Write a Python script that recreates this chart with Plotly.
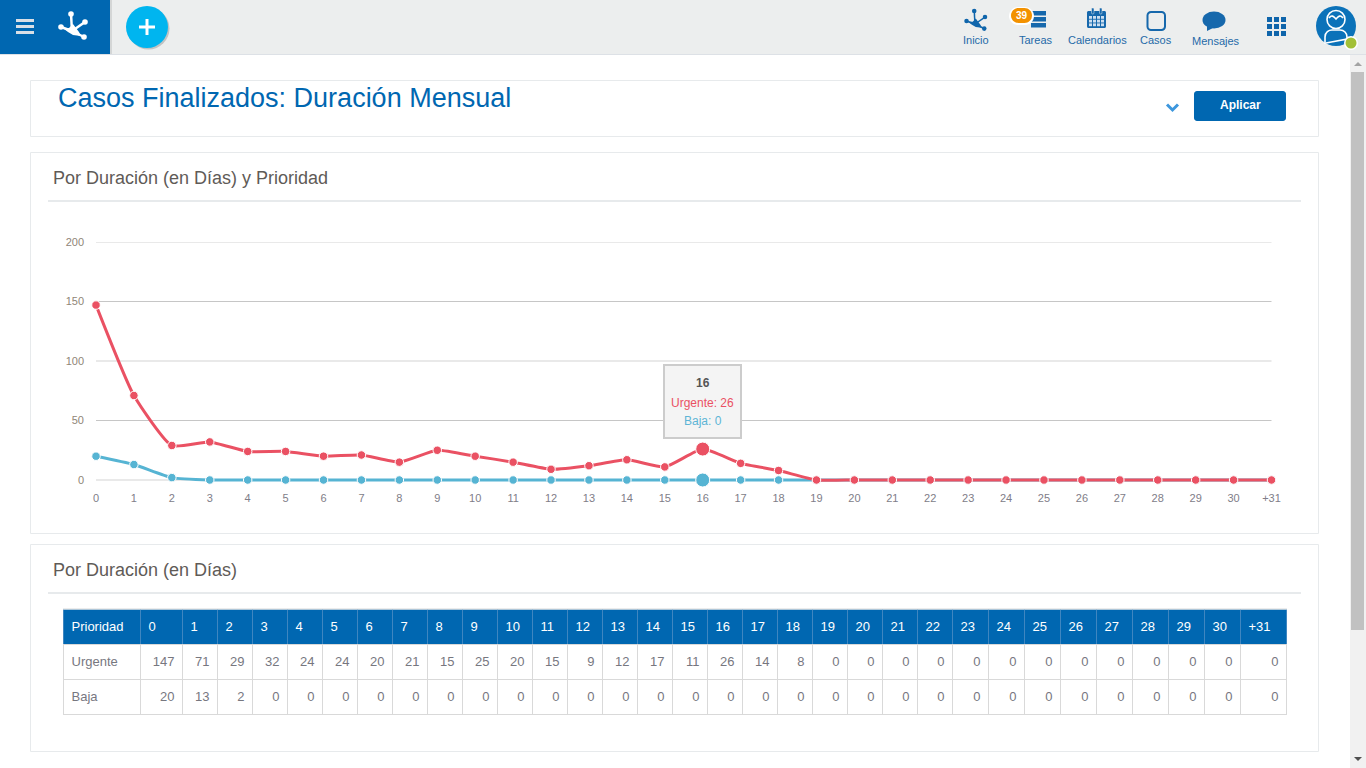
import re
import plotly.graph_objects as go

categories = [str(i) for i in range(31)] + ["+31"]
urgente = [147, 71, 29, 32, 24, 24, 20, 21, 15, 25, 20, 15, 9, 12, 17, 11, 26, 14, 8,
           0, 0, 0, 0, 0, 0, 0, 0, 0, 0, 0, 0, 0]
baja = [20, 13, 2, 0, 0, 0, 0, 0, 0, 0, 0, 0, 0, 0, 0, 0, 0, 0, 0,
        0, 0, 0, 0, 0, 0, 0, 0, 0, 0, 0, 0, 0]
y_ticks = [0, 50, 100, 150, 200]
table_col_widths = [77, 42] + [35] * 22 + [36] * 8 + [46]
hover_index = 16

W, H = 1366, 768
FONT = "Liberation Sans"
BLUE = "#0067b1"
RED = "#ea5163"
CYAN = "#56b4d3"
BORDER = "#e7eaec"


def fx(x):
    return x / W


def fy(y):
    return 1 - y / H


def path_px(d):
    """Convert an SVG path with page pixel coordinates to paper coordinates."""
    count = [0]

    def rep(m):
        v = float(m.group(0))
        c = count[0]
        count[0] += 1
        return f"{fx(v):.5f}" if c % 2 == 0 else f"{fy(v):.5f}"

    return re.sub(r"-?\d+(?:\.\d+)?", rep, d)


shapes = []
notes = []


def rect(x0, y0, x1, y1, fill=None, line=None, lw=1, layer="below"):
    shapes.append(dict(type="rect", xref="paper", yref="paper", x0=fx(x0), x1=fx(x1),
                       y0=fy(y1), y1=fy(y0), fillcolor=fill or "rgba(0,0,0,0)",
                       line=dict(color=line or "rgba(0,0,0,0)", width=lw if line else 0), layer=layer))


def circle(cx, cy, rx, ry=None, fill=None, line=None, lw=1, layer="below"):
    ry = rx if ry is None else ry
    shapes.append(dict(type="circle", xref="paper", yref="paper", x0=fx(cx - rx), x1=fx(cx + rx),
                       y0=fy(cy + ry), y1=fy(cy - ry), fillcolor=fill or "rgba(0,0,0,0)",
                       line=dict(color=line or "rgba(0,0,0,0)", width=lw if line else 0), layer=layer))


def path(d, fill=None, line=None, lw=1, layer="below"):
    shapes.append(dict(type="path", xref="paper", yref="paper", path=path_px(d),
                       fillcolor=fill or "rgba(0,0,0,0)",
                       line=dict(color=line or "rgba(0,0,0,0)", width=lw if line else 0), layer=layer))


def rrect(x0, y0, x1, y1, r, fill=None, line=None, lw=1, layer="below"):
    k = r * 0.45
    d = (f"M {x0+r} {y0} L {x1-r} {y0} C {x1-k} {y0} {x1} {y0+k} {x1} {y0+r} "
         f"L {x1} {y1-r} C {x1} {y1-k} {x1-k} {y1} {x1-r} {y1} "
         f"L {x0+r} {y1} C {x0+k} {y1} {x0} {y1-k} {x0} {y1-r} "
         f"L {x0} {y0+r} C {x0} {y0+k} {x0+k} {y0} {x0+r} {y0} Z")
    path(d, fill, line, lw, layer)


def text(x, y, s, size=12, color="#666", anchor="left", vanchor="middle"):
    notes.append(dict(xref="paper", yref="paper", x=fx(x), y=fy(y), text=s, showarrow=False,
                      xanchor=anchor, yanchor=vanchor, align=anchor, borderpad=0, borderwidth=0,
                      font=dict(family=FONT, size=size, color=color)))


def foot(cx, cy, s, color, thick):
    """Frog-foot logo around its body centre."""
    r = 2.6 * (s ** 0.5) if s < 1 else 2.8
    tips = [(-1, -17), (13, -9), (-11, -4), (12, 6)]
    for tx, ty in tips:
        path(f"M {cx} {cy} L {cx+tx*s} {cy+ty*s}", None, color, thick)
        circle(cx + tx * s, cy + ty * s, r, fill=color)
    path(f"M {cx-9*s} {cy-3*s} L {cx-3*s} {cy-3*s} L {cx+1*s} {cy-7*s} L {cx+7*s} {cy+1*s} "
         f"L {cx+9*s} {cy+5*s} L {cx+1*s} {cy+4*s} L {cx-4*s} {cy+1*s} Z", color)


# ---------- page chrome ----------
rect(0, 0, W, 54, "#eceeee")
rect(0, 54, W, 55, "#dde1e6")
rect(110, 0, 112, 54, "#d4d6d6")
rect(0, 0, 110, 54, BLUE)
for yy in (19, 25, 31):
    rect(16, yy, 34, yy + 3, "#d9dfe6")
foot(72, 31, 1, "white", 2.5)
circle(148.5, 28.5, 21, fill="rgba(0,0,0,0.18)")
circle(147, 27, 21, fill="#00b5ef")
rect(139, 25.5, 155, 28.5, "white")
rect(145.5, 19, 148.5, 35, "white")

# nav items
NAV = "#1f6aa8"
foot(975, 24, 0.77, "#0f65ab", 1.5)
for label, x, y in (("Inicio", 976, 40), ("Tareas", 1036, 40), ("Calendarios", 1097, 40),
                    ("Casos", 1156, 40), ("Mensajes", 1216, 41)):
    text(x, y, label, 11, NAV, "center")
# tareas
for yy in (11, 17, 23):
    rect(1031, yy, 1046, yy + 4.5, "#1668ac")
rrect(1009, 7, 1034, 25, 9, "white")
rrect(1011, 8, 1032, 23, 7.5, "#f39200")
text(1021.5, 15.5, "<b>39</b>", 10, "white", "center")
# calendar
rrect(1087, 11, 1106, 28, 1.5, "#1668ac")
for xx in (1091.5, 1099.5):
    rrect(xx, 8, xx + 2.5, 14, 1, "#1668ac", "#eceeee", 0.5)
for r_ in range(3):
    for c_ in range(4):
        rect(1089 + c_ * 4, 16 + r_ * 3.7, 1092 + c_ * 4, 18.8 + r_ * 3.7, "#cddff0")
# casos
rrect(1147.5, 12, 1165, 30, 3.5, None, "#1668ac", 2)
# mensajes
circle(1214, 20, 11.5, 8.5, "#1668ac")
path("M 1207 25 L 1207 31 L 1215 27 Z", "#1668ac")
# apps grid
for r_ in range(3):
    for c_ in range(3):
        rect(1267 + c_ * 7, 17 + r_ * 7, 1272 + c_ * 7, 22 + r_ * 7, "#0f65ab")
# avatar
circle(1336, 26, 20, fill="#0b72b9")
circle(1336, 19.5, 9, 9, None, "white", 1.6)
path("M 1329 18 C 1332 14 1334 17 1336 19 C 1338 17 1340 14 1343 18", None, "white", 1.6)
path("M 1325 44 L 1325 37 C 1325 32 1329 30 1332 30 L 1340 30 C 1344 30 1347 33 1347 37 L 1347 39 "
     "L 1326 43", None, "white", 1.6)
circle(1351, 43, 7, fill="white")
circle(1351, 43, 5.5, fill="#a2c037")

# scrollbar
rect(1350, 55, W, H, "#f1f1f1")
rect(1351, 72, 1364, 630, "#c1c1c1")
path("M 1354 66 L 1358 62 L 1362 66 Z", "#a3a3a3")
path("M 1354 757 L 1358 761 L 1362 757 Z", "#505050")

# panels
rect(30.5, 80.5, 1318.5, 136.5, "white", BORDER, 1)
rect(30.5, 152.5, 1318.5, 533.5, "white", BORDER, 1)
rect(30.5, 544.5, 1318.5, 751.5, "white", BORDER, 1)
rect(48, 200, 1301, 202, BORDER)
rect(48, 592, 1301, 594, BORDER)
text(58, 98, "Casos Finalizados: Duración Mensual", 27, BLUE)
text(53, 178, "Por Duración (en Días) y Prioridad", 18, "#5f5b57")
text(53, 570, "Por Duración (en Días)", 18, "#5f5b57")
path("M 1167 104.5 L 1172.5 110 L 1178 104.5", None, "#3d97dd", 3)
rrect(1194, 91, 1286, 121, 3, BLUE)
text(1240, 105.5, "<b>Aplicar</b>", 12, "white", "center")

# chart gridlines driven by the y ticks
for t in y_ticks:
    major = t % 100 == 0
    shapes.append(dict(type="line", xref="x domain", yref="y", x0=0, x1=1, y0=t, y1=t, layer="below",
                       line=dict(color="#e9e9e9" if major else "#c6c6c6", width=2 if major else 1)))

# table background and rules, sized from the same column widths as the table trace
TABLE_X0 = 63.5
TABLE_Y = [609.5, 644.5, 679.5, 714.5]
rect(TABLE_X0, TABLE_Y[0], TABLE_X0 + sum(table_col_widths), TABLE_Y[1], BLUE)
edge = TABLE_X0
edges = [edge]
for w_ in table_col_widths:
    edge += w_
    edges.append(edge)
for e_ in edges:
    rect(e_ - 0.5, TABLE_Y[0], e_ + 0.5, TABLE_Y[1], "#3f86c0")
    rect(e_ - 0.5, TABLE_Y[1], e_ + 0.5, TABLE_Y[3] + 0.5, "#d9d9d9")
for y_ in TABLE_Y[1:]:
    rect(TABLE_X0 - 0.5, y_ - 0.5, edges[-1] + 0.5, y_ + 0.5, "#d9d9d9")
rect(TABLE_X0 - 0.5, TABLE_Y[0] - 1, edges[-1] + 0.5, TABLE_Y[0], "#d9d9d9")

# tooltip
rect(664, 365, 741, 438, "#f4f4f4", "#cccccc", 2, "above")
text(702.5, 383, f"<b>{categories[hover_index]}</b>", 12, "#555555", "center")
text(702.5, 402.5, f"Urgente: {urgente[hover_index]}", 12, RED, "center")
text(702.5, 421, f"Baja: {baja[hover_index]}", 12, "#5db5d6", "center")

sizes = [14 if i == hover_index else 8.5 for i in range(len(categories))]

fig = go.Figure()
fig.add_trace(go.Scatter(x=categories, y=baja, name="Baja", mode="lines+markers", cliponaxis=False,
                         line=dict(color=CYAN, width=3, shape="spline", smoothing=0.5),
                         marker=dict(color=CYAN, size=sizes, opacity=1, line=dict(color="white", width=1))))
fig.add_trace(go.Scatter(x=categories, y=urgente, name="Urgente", mode="lines+markers", cliponaxis=False,
                         line=dict(color=RED, width=3, shape="spline", smoothing=0.5),
                         marker=dict(color=RED, size=sizes, opacity=1, line=dict(color="white", width=1))))

cols = [["Urgente", "Baja"]] + [[str(u), str(b)] for u, b in zip(urgente, baja)]
CLEAR = "rgba(0,0,0,0)"
fig.add_trace(go.Table(
    domain=dict(x=[fx(TABLE_X0), fx(edges[-1])], y=[fy(725), fy(613.5)]),
    columnwidth=table_col_widths,
    header=dict(values=["Prioridad"] + categories, height=34.5, align="left", fill_color=CLEAR,
                line=dict(color=CLEAR, width=0),
                font=dict(family=FONT, size=13, color="white")),
    cells=dict(values=cols, height=35, align=["left"] + ["right"] * len(categories), fill_color=CLEAR,
               line=dict(color=CLEAR, width=0),
               font=dict(family=FONT, size=13, color="#77777f")),
))

PX_PER_UNIT = 238 / 200
Y_MIN = -5
fig.update_layout(
    width=W, height=H, autosize=False,
    margin=dict(l=0, r=0, t=0, b=0, pad=0, autoexpand=False), showlegend=False,
    paper_bgcolor="white", plot_bgcolor="rgba(0,0,0,0)", hovermode=False,
    shapes=shapes, annotations=notes, font=dict(family=FONT),
    xaxis=dict(domain=[fx(96), fx(1271.5)], type="category", range=[0, 31], showgrid=False, zeroline=False,
               showline=False, ticks="", ticklabelstandoff=4, fixedrange=True,
               tickfont=dict(family=FONT, size=11, color="#807d88"),
               anchor="y"),
    yaxis=dict(domain=[fy(480 - Y_MIN * PX_PER_UNIT), fy(242)], range=[Y_MIN, 200], tickvals=y_ticks,
               showgrid=False, zeroline=False,
               showline=False, ticks="", ticklabelstandoff=11, fixedrange=True,
               tickfont=dict(family=FONT, size=11, color="#8f8577"),
               anchor="x"),
)

fig.write_html("out.html", config=dict(displayModeBar=False),
               post_script="document.body.style.margin='0';document.body.style.overflow='hidden';")
